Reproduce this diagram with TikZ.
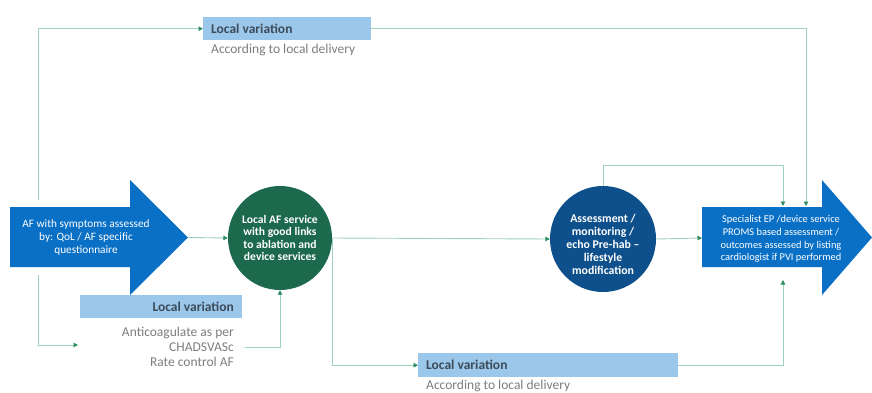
\documentclass[tikz,border=0pt]{standalone}
\usepackage{fontspec}
\setmainfont{Carlito}
\usetikzlibrary{arrows.meta}
\definecolor{arrowblue}{RGB}{10,112,198}
\definecolor{circgreen}{RGB}{28,105,78}
\definecolor{circblue}{RGB}{14,80,140}
\definecolor{lvblue}{RGB}{155,199,234}
\definecolor{linec}{RGB}{160,208,190}
\definecolor{tipc}{RGB}{45,140,95}
\definecolor{lvtext}{RGB}{60,75,90}
\definecolor{subtext}{RGB}{125,125,125}
\begin{document}
\begin{tikzpicture}[x=1pt,y=-1pt,
  conn/.style={draw=linec,line width=0.9pt,-{Triangle[length=4.5pt,width=4.5pt,color=tipc]}},
  lvbox/.style={rectangle,fill=lvblue,inner sep=0,anchor=north west},
  lvlabel/.style={font=\fontsize{13.5}{15}\selectfont\bfseries,text=lvtext,inner sep=0},
  subtxt/.style={font=\fontsize{13.5}{15}\selectfont,text=subtext,inner sep=0},
  circgreenbox/.style={circle,fill=circgreen,inner sep=0,minimum size=104pt,text=white,align=center,font=\fontsize{11.6}{12.2}\selectfont\bfseries},
  circbluebox/.style={circle,fill=circblue,inner sep=0,minimum size=106pt},
  circbluetext/.style={text=white,align=center,inner sep=0,font=\fontsize{11.8}{13}\selectfont\bfseries},
  arrtext/.style={text=white,align=center,inner sep=0}]
\useasboundingbox (0,0) rectangle (872,393);

% big arrows
\fill[arrowblue] (10,207) -- (130,207) -- (130,180) -- (188,237.5) -- (130,295) -- (130,267) -- (10,267) -- cycle;
\fill[arrowblue] (702,207) -- (822,207) -- (822,180) -- (872,237.5) -- (822,295) -- (822,267) -- (702,267) -- cycle;
\node[arrtext,font=\fontsize{11.3}{13}\selectfont] (lat) at (86,237) {AF with symptoms assessed\\by: QoL / AF specific\\questionnaire};
\node[arrtext,font=\fontsize{10.4}{12.6}\selectfont] (rat) at (781,239) {Specialist EP /device service\\PROMS based assessment /\\outcomes assessed by listing\\cardiologist if PVI performed};
\coordinate (ltip) at (188,237.5);
\coordinate (ltop) at (38,200);
\coordinate (lbot) at (38,275);
\coordinate (rwest) at (702,238);
\coordinate (rtopA) at (783,206);
\coordinate (rtopB) at (806,206);
\coordinate (rbot) at (783,280);
\coordinate (bcup) at (603,165);
\coordinate (llt) at (78,345);

% circles
\node[circgreenbox] (gc) at (280,238) {Local AF service\\with good links\\to ablation and\\device services};
\node[circbluebox] (bc) at (603,239) {};
\node[circbluetext] (bct) at (603,244) {Assessment /\\monitoring /\\echo Pre-hab --\\lifestyle\\modification};

% local variation boxes
\node[lvbox,minimum width=168pt,minimum height=23pt] (lv1) at (203,17) {};
\node[lvlabel,anchor=west] (lv1t) at (211,29) {Local variation};
\node[subtxt,anchor=base west] (lv1s) at (211,54) {According to local delivery};

\node[lvbox,minimum width=162pt,minimum height=23pt] (lv2) at (80,295) {};
\node[lvlabel,anchor=east] (lv2t) at (234,307) {Local variation};
\node[subtxt,anchor=base east] (s1) at (234,336) {Anticoagulate as per};
\node[subtxt,anchor=base east] (chad) at (234,351) {CHADSVASc};
\node[subtxt,anchor=base east] (s3) at (234,366) {Rate control AF};

\node[lvbox,minimum width=260pt,minimum height=24pt] (lv3) at (418,353) {};
\node[lvlabel,anchor=west] (lv3t) at (426,365) {Local variation};
\node[subtxt,anchor=base west] (lv3s) at (426,389.5) {According to local delivery};

% connectors
\draw[conn] (ltop) |- (lv1.west);
\draw[conn] (lv1.east) -| (rtopB);
\draw[conn] (lbot) |- (llt);
\draw[conn] ([xshift=11pt]chad.east |- 0,347) -| (gc.south);
\draw[conn] (ltip) -- (gc.west);
\draw[conn] (gc.east) -- (bc.west);
\draw[conn] (gc.east) |- (lv3.west);
\draw[conn] (bc.east) -- (rwest);
\draw[conn] (bc.north) -- (bcup) -| (rtopA);
\draw[conn] (lv3.east) -| (rbot);
\end{tikzpicture}
\end{document}
